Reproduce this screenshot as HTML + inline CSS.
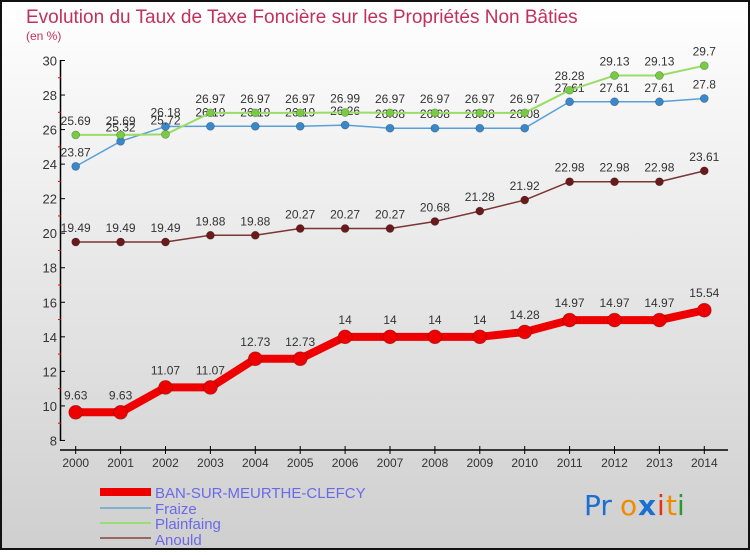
<!DOCTYPE html>
<html><head><meta charset="utf-8"><style>
html,body{margin:0;padding:0}
body{width:750px;height:550px;overflow:hidden;font-family:"Liberation Sans",sans-serif}
</style></head><body>
<svg id="chart" width="750" height="550" xmlns="http://www.w3.org/2000/svg">
<defs><linearGradient id="bg" x1="0" y1="0" x2="0" y2="1"><stop offset="0" stop-color="#ffffff"/><stop offset="1" stop-color="#cfcfcf"/></linearGradient></defs>
<rect x="1" y="1" width="748" height="548" fill="url(#bg)" stroke="#111" stroke-width="2"/>
<text x="26" y="23" font-size="19" fill="#c2305c">Evolution du Taux de Taxe Foncière sur les Propriétés Non Bâties</text>
<text x="26" y="40" font-size="12" fill="#c2305c">(en %)</text>
<g id="axes"></g>
<g id="series"></g>
<g id="legend">
<line x1="100" y1="492" x2="151" y2="492" stroke="#ee0000" stroke-width="8"/>
<text x="155" y="498" font-size="15" fill="#6a6ae8">BAN-SUR-MEURTHE-CLEFCY</text>
<line x1="100" y1="508" x2="151" y2="508" stroke="#7fb0d0" stroke-width="2"/>
<text x="155" y="514" font-size="15" fill="#6a6ae8">Fraize</text>
<line x1="100" y1="523" x2="151" y2="523" stroke="#99dd77" stroke-width="2"/>
<text x="155" y="529" font-size="15" fill="#6a6ae8">Plainfaing</text>
<line x1="100" y1="538" x2="151" y2="538" stroke="#996666" stroke-width="2"/>
<text x="155" y="545" font-size="15" fill="#6a6ae8">Anould</text>
</g>
<g font-size="28" font-family="'DejaVu Sans',sans-serif">
<text x="584" y="515" fill="#1a6fd0">Pr</text><text x="620" y="515" fill="#f08a00">o</text><text x="638" y="515" fill="#1a6fd0" font-weight="bold">x</text><text x="657" y="515" fill="#e83010">i</text><text x="666" y="515" fill="#f08a00">t</text><text x="677" y="515" fill="#2a9a30">i</text>
</g>
</svg>
<script>
const years=[2000,2001,2002,2003,2004,2005,2006,2007,2008,2009,2010,2011,2012,2013,2014];
const ban=[9.63,9.63,11.07,11.07,12.73,12.73,14,14,14,14,14.28,14.97,14.97,14.97,15.54];
const fraize=[23.87,25.32,26.18,26.19,26.19,26.19,26.26,26.08,26.08,26.08,26.08,27.61,27.61,27.61,27.8];
const plainfaing=[25.69,25.69,25.72,26.97,26.97,26.97,26.99,26.97,26.97,26.97,26.97,28.28,29.13,29.13,29.7];
const anould=[19.49,19.49,19.49,19.88,19.88,20.27,20.27,20.27,20.68,21.28,21.92,22.98,22.98,22.98,23.61];
const yTicks=[8,10,12,14,16,18,20,22,24,26,28,30];
const NS="http://www.w3.org/2000/svg";
const x=i=>75.7+i*44.9;
const y=v=>60.5+(30-v)*17.27;
function mk(tag,attrs,parent){const e=document.createElementNS(NS,tag);for(const k in attrs)e.setAttribute(k,attrs[k]);parent.appendChild(e);return e;}
const ax=document.getElementById('axes');
const yl=mk('line',{x1:60.5,y1:60,x2:60.5,y2:441,stroke:'#000','stroke-width':1.5},ax);


const xl=mk('line',{x1:60,y1:450,x2:728,y2:450,stroke:'#000','stroke-width':1.5},ax);


yTicks.forEach(v=>{
  mk('line',{x1:60.5,y1:y(v),x2:65,y2:y(v),stroke:'#000'},ax);
  if(v<30) mk('line',{x1:58,y1:y(v+1),x2:61,y2:y(v+1),stroke:'#e00'},ax);
  const t=mk('text',{x:57,y:y(v)+5,'text-anchor':'end','font-size':13,fill:'#333'},ax);
  
  
  t.textContent=v;
});
years.forEach((yr,i)=>{
  mk('line',{x1:x(i),y1:446,x2:x(i),y2:454,stroke:'#000'},ax);
  const t=mk('text',{x:x(i),y:467,'text-anchor':'middle','font-size':12,fill:'#333'},ax);
  
  
  t.textContent=yr;
});
const sg=document.getElementById('series');
function draw(data,name,lc,pc,lw,r,fs){
  const g=mk('g',{},sg);
  
  
  const p=mk('polyline',{points:data.map((v,i)=>x(i)+','+y(v)).join(' '),fill:'none',stroke:lc,'stroke-width':lw,'stroke-linejoin':'round'},g);
  
  
  data.forEach((v,i)=>{
    const c=mk('circle',{cx:x(i),cy:y(v),r:r,fill:pc,stroke:'rgba(0,0,0,0.3)','stroke-width':0.7},g);
    
    
    const t=mk('text',{x:x(i),y:y(v)-(r+6),'text-anchor':'middle','font-size':fs,fill:'#333'},g);
    
    
    t.textContent=v;
  });
}
draw(anould,'anould','#7a3535','#6a1a1a',1.5,4,12);
draw(fraize,'fraize','#5aa0d8','#3a88cc',1.5,4,12);
draw(plainfaing,'plainfaing','#99dd66','#77cc44',2,4,12);
draw(ban,'ban','#ee0000','#ee0000',8,7,12);
</script>
</body></html>
